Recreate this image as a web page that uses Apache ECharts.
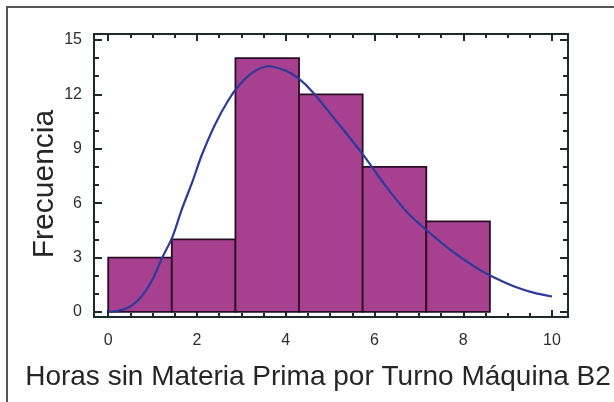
<!DOCTYPE html>
<html><head><meta charset="utf-8">
<script src="https://cdn.jsdelivr.net/npm/echarts@6/dist/echarts.min.js"></script>
<style>
html,body{margin:0;padding:0;background:#fff;}
#frame{position:absolute;left:6px;top:6px;width:640px;height:420px;border-left:2px solid #555;border-top:2px solid #555;}
#c{position:absolute;left:0;top:0;width:614px;height:402px;}
</style></head>
<body><div id="frame"></div><div id="c"></div>
<script>
// Histogram data
const binEdges = [0, 1.433, 2.867, 4.3, 5.733, 7.167, 8.6];
const counts = [3, 4, 14, 12, 8, 5];
// Fitted density curve
const curveX = [0, 0.25, 0.5, 0.75, 1.0, 1.2, 1.45, 1.65, 1.9, 2.1, 2.4, 2.7, 2.95, 3.25, 3.6, 4.0, 4.3, 4.6, 5.1, 5.75, 6.25, 6.75, 7.2, 7.75, 8.25, 8.65, 9.15, 9.6, 10];
const curveY = [0, 0.08, 0.3, 0.85, 1.8, 2.9, 4.15, 5.6, 7.2, 8.6, 10.3, 11.65, 12.5, 13.2, 13.55, 13.3, 12.85, 12.15, 10.65, 8.65, 6.95, 5.45, 4.45, 3.35, 2.5, 1.95, 1.4, 1.05, 0.85];
// Tick values
const xMajor = [0, 2, 4, 6, 8, 10];
const xMinor = [0.5, 1, 1.5, 2.5, 3, 3.5, 4.5, 5, 5.5, 6.5, 7, 7.5, 8.5, 9, 9.5];
const yMajor = [0, 3, 6, 9, 12, 15];
const yMinor = [1, 2, 4, 5, 7, 8, 10, 11, 13, 14];
const xTitle = 'Horas sin Materia Prima por Turno Máquina B2';
const yTitle = 'Frecuencia';

const X_MIN = -0.32, X_MAX = 10.36, Y_MIN = -0.28, Y_MAX = 15.33;
const lineStyle = {color: '#1d2a2a', width: 2};
const font = 'Liberation Sans, Arial, sans-serif';

function xAxis(pos, vals, len, labels) {
  return {
    type: 'value', position: pos, min: X_MIN, max: X_MAX,
    axisLine: {show: true, onZero: false, lineStyle: lineStyle},
    axisTick: {show: true, inside: true, length: len, customValues: vals, lineStyle: {color: '#1d2a2a', width: 2}},
    axisLabel: labels ? {show: true, customValues: vals, color: '#2e2e2e', fontSize: 16, fontFamily: font, margin: 16} : {show: false},
    splitLine: {show: false}
  };
}
function yAxis(pos, vals, len, labels) {
  return {
    type: 'value', position: pos, min: Y_MIN, max: Y_MAX,
    axisLine: {show: true, onZero: false, lineStyle: lineStyle},
    axisTick: {show: true, inside: true, length: len, customValues: vals, lineStyle: {color: '#1d2a2a', width: 2}},
    axisLabel: labels ? {show: true, customValues: vals, color: '#2e2e2e', fontSize: 16, fontFamily: font, margin: 12} : {show: false},
    splitLine: {show: false}
  };
}

const histData = counts.map((c, i) => [binEdges[i], binEdges[i + 1], c]);
const curveData = curveX.map((x, i) => [x, curveY[i]]);

const chart = echarts.init(document.getElementById('c'));
chart.setOption({
  animation: false,
  grid: {left: 94, top: 34, right: 46, bottom: 85, containLabel: false},
  xAxis: [
    xAxis('bottom', xMajor, 7, true),
    xAxis('bottom', xMinor, 4, false),
    xAxis('top', xMajor, 7, false),
    xAxis('top', xMinor, 4, false)
  ],
  yAxis: [
    yAxis('left', yMajor, 8, true),
    yAxis('left', yMinor, 5, false),
    yAxis('right', yMajor, 8, false),
    yAxis('right', yMinor, 5, false)
  ],
  graphic: [
    {type: 'text', x: 318, y: 363, style: {text: xTitle, fontSize: 28, fontFamily: font, fill: '#262626', align: 'center', verticalAlign: 'top'}},
    {type: 'text', x: 30, y: 184, rotation: Math.PI / 2, style: {text: yTitle, fontSize: 30, fontFamily: font, fill: '#262626', align: 'center', verticalAlign: 'top'}}
  ],
  series: [
    {
      type: 'custom',
      xAxisIndex: 0, yAxisIndex: 0,
      data: histData,
      encode: {x: [0, 1], y: 2},
      renderItem: function (params, api) {
        const p1 = api.coord([api.value(0), api.value(2)]);
        const p2 = api.coord([api.value(1), 0]);
        return {
          type: 'rect',
          shape: {x: p1[0], y: p1[1], width: p2[0] - p1[0], height: p2[1] - p1[1]},
          style: {fill: '#a7408f', stroke: '#2a0c26', lineWidth: 1.8}
        };
      },
      z: 2
    },
    {
      type: 'line',
      xAxisIndex: 0, yAxisIndex: 0,
      data: curveData,
      smooth: 0.3,
      showSymbol: false,
      lineStyle: {color: '#2b3a9c', width: 2.2},
      z: 3
    }
  ]
});
</script></body></html>
